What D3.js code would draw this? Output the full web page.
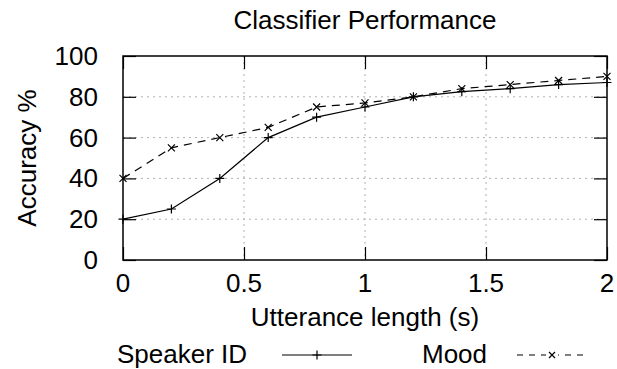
<!DOCTYPE html>
<html>
<head>
<meta charset="utf-8">
<title>Classifier Performance</title>
<script src="https://d3js.org/d3.v7.min.js"></script>
<style>
body { margin: 0; background: #fff; }
text { font-family: "Liberation Sans", Arial, sans-serif; fill: #000; }
.grid line { stroke: #b0b0b0; stroke-dasharray: 2,4; }
</style>
</head>
<body>
<script>
// values
var lengths = [0, 0.2, 0.4, 0.6, 0.8, 1.0, 1.2, 1.4, 1.6, 1.8, 2.0];
var speakerId = [20, 25, 40, 60, 70, 75, 80, 82.5, 84, 86, 87];
var mood = [40, 55, 60, 65, 75, 77, 80, 84, 86, 88, 90];
var xTicks = [0, 0.5, 1, 1.5, 2];
var yTicks = [0, 20, 40, 60, 80, 100];

var W = 617, H = 369;
var plotL = 123, plotR = 607, plotT = 56, plotB = 260;
var fs = 26, tickLen = 13;

var svg = d3.select("body").append("svg")
    .attr("width", W)
    .attr("height", H);

var x = d3.scaleLinear().domain([0, 2]).range([plotL, plotR]);
var y = d3.scaleLinear().domain([0, 100]).range([plotB, plotT]);

// grid
var grid = svg.append("g").attr("class", "grid");
grid.selectAll(".gx").data(xTicks.slice(1, -1)).enter().append("line")
    .attr("x1", d => x(d)).attr("x2", d => x(d))
    .attr("y1", plotT).attr("y2", plotB);
grid.selectAll(".gy").data(yTicks.slice(1, -1)).enter().append("line")
    .attr("x1", plotL).attr("x2", plotR)
    .attr("y1", d => y(d)).attr("y2", d => y(d));

// axes: ticks pointing inward on all four sides
function noDomain(g) { g.select(".domain").remove(); }
svg.append("g")
    .attr("transform", "translate(0," + plotB + ")")
    .call(d3.axisTop(x).tickValues(xTicks).tickSize(tickLen).tickFormat(""))
    .call(noDomain);
svg.append("g")
    .attr("transform", "translate(0," + plotT + ")")
    .call(d3.axisBottom(x).tickValues(xTicks).tickSize(tickLen).tickFormat(""))
    .call(noDomain);
svg.append("g")
    .attr("transform", "translate(" + plotL + ",0)")
    .call(d3.axisRight(y).tickValues(yTicks).tickSize(tickLen).tickFormat(""))
    .call(noDomain);
svg.append("g")
    .attr("transform", "translate(" + plotR + ",0)")
    .call(d3.axisLeft(y).tickValues(yTicks).tickSize(tickLen).tickFormat(""))
    .call(noDomain);
svg.selectAll(".tick line").attr("stroke", "#000").attr("stroke-width", 1.2);

svg.append("rect")
    .attr("x", plotL).attr("y", plotT)
    .attr("width", plotR - plotL).attr("height", plotB - plotT)
    .attr("fill", "none").attr("stroke", "#000").attr("stroke-width", 1.5);

// tick labels
svg.selectAll(".xl").data(xTicks).enter().append("text")
    .attr("x", d => x(d)).attr("y", 292)
    .attr("text-anchor", "middle").style("font-size", fs + "px")
    .text(d => d);
svg.selectAll(".yl").data(yTicks).enter().append("text")
    .attr("x", 98).attr("y", d => y(d) + 9)
    .attr("text-anchor", "end").style("font-size", fs + "px")
    .text(d => d);

// titles
svg.append("text")
    .attr("x", (plotL + plotR) / 2).attr("y", 29)
    .attr("text-anchor", "middle").style("font-size", fs + "px")
    .text("Classifier Performance");
svg.append("text")
    .attr("x", (plotL + plotR) / 2).attr("y", 326)
    .attr("text-anchor", "middle").style("font-size", fs + "px")
    .text("Utterance length (s)");
svg.append("text")
    .attr("transform", "translate(36," + ((plotT + plotB) / 2) + ") rotate(-90)")
    .attr("text-anchor", "middle").style("font-size", fs + "px")
    .text("Accuracy %");

// series
var line = d3.line();
function pts(vals) { return vals.map((v, i) => [x(lengths[i]), y(v)]); }

function plus(g, cx, cy, r) {
  g.append("path").attr("d", "M" + (cx - r) + "," + cy + "H" + (cx + r) + "M" + cx + "," + (cy - r) + "V" + (cy + r));
}
function cross(g, cx, cy, r) {
  g.append("path").attr("d", "M" + (cx - r) + "," + (cy - r) + "L" + (cx + r) + "," + (cy + r) +
    "M" + (cx - r) + "," + (cy + r) + "L" + (cx + r) + "," + (cy - r));
}

svg.append("path")
    .attr("d", line(pts(speakerId)))
    .attr("fill", "none").attr("stroke", "#000").attr("stroke-width", 1.2);
svg.append("path")
    .attr("d", line(pts(mood)))
    .attr("fill", "none").attr("stroke", "#000").attr("stroke-width", 1.2)
    .attr("stroke-dasharray", "8,6");

var mk = svg.append("g").attr("stroke", "#000").attr("stroke-width", 1.2).attr("fill", "none");
pts(speakerId).forEach(p => plus(mk, p[0], p[1], 4.5));
pts(mood).forEach(p => cross(mk, p[0], p[1], 3.5));

// legend
var ly = 355;
svg.append("text").attr("x", 117).attr("y", 363).style("font-size", fs + "px").text("Speaker ID");
mk.append("line").attr("x1", 282).attr("x2", 352).attr("y1", ly).attr("y2", ly);
plus(mk, 317, ly, 4.5);
svg.append("text").attr("x", 422).attr("y", 363).style("font-size", fs + "px").text("Mood");
mk.append("line").attr("x1", 517).attr("x2", 588).attr("y1", ly).attr("y2", ly)
    .attr("stroke-dasharray", "6,6");
mk.append("rect").attr("x", 546).attr("y", ly - 4).attr("width", 12).attr("height", 8)
    .attr("fill", "#fff").attr("stroke", "none");
cross(mk, 552, ly, 3);
</script>
</body>
</html>
